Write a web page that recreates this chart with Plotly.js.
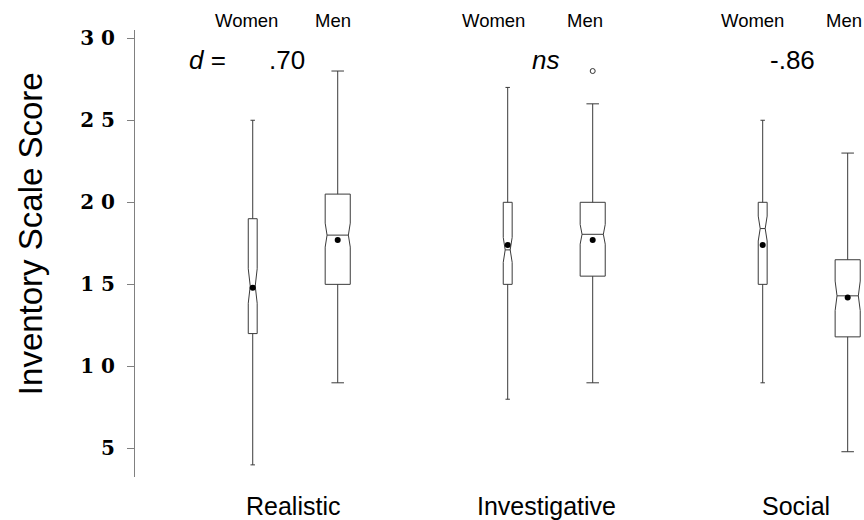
<!DOCTYPE html>
<html><head><meta charset="utf-8">
<script src="https://cdn.plot.ly/plotly-3.0.1.min.js"></script>
<style>html,body{margin:0;padding:0;background:#fff}</style>
</head><body><div id="chart" style="width:864px;height:520px"></div>
<script>
// Data (order per scale: Women, Men)
const scales = ['Realistic', 'Investigative', 'Social'];
const groups = ['Women', 'Men'];
const effectLabels = ['.70', '<i>ns</i>', '-.86'];
const lowerWhisker = [4, 9, 8, 9, 9, 4.8];
const q1Values = [12, 15, 15, 15.5, 15, 11.8];
const medianValues = [14.9, 18, 17.1, 18.05, 18.4, 14.3];
const q3Values = [19, 20.5, 20, 20, 20, 16.5];
const upperWhisker = [25, 28, 27, 26, 25, 23];
const notchHalfSpan = [1.05, 0.73, 0.76, 0.6, 0.76, 0.9];
const meanValues = [14.8, 17.7, 17.4, 17.7, 17.4, 14.2];
const outlierScaleIdx = [1];
const outlierGroupIdx = [1];
const outlierValues = [28];
const yTickVals = [5, 10, 15, 20, 25, 30];
const yTickText = ['5', '1 0', '1 5', '2 0', '2 5', '3 0'];

// positions: scale s, group g -> s*3 + g
const pos = (s, g) => s * 3 + g;
const lineCol = '#3a3a3a';
const traces = [];
const meanX = [], meanY = [];
scales.forEach((sc, s) => {
  groups.forEach((gr, g) => {
    const i = s * 2 + g;
    const isMen = g === 1;
    traces.push({
      type: 'box',
      name: sc + ' ' + gr,
      x: [pos(s, g)],
      q1: [q1Values[i]],
      median: [medianValues[i]],
      q3: [q3Values[i]],
      lowerfence: [lowerWhisker[i]],
      upperfence: [upperWhisker[i]],
      notchspan: [notchHalfSpan[i]],
      notched: true,
      notchwidth: isMen ? 0.075 : 0.22,
      width: isMen ? 0.295 : 0.105,
      whiskerwidth: 0.5,
      boxpoints: false,
      fillcolor: '#ffffff',
      line: {color: lineCol, width: 1},
      showlegend: false,
      hoverinfo: 'skip'
    });
    meanX.push(pos(s, g));
    meanY.push(meanValues[i]);
  });
});
traces.push({
  type: 'scatter', mode: 'markers', x: meanX, y: meanY,
  marker: {color: '#000', size: 6}, showlegend: false, hoverinfo: 'skip'
});
traces.push({
  type: 'scatter', mode: 'markers',
  x: outlierScaleIdx.map((s, k) => pos(s, outlierGroupIdx[k])),
  y: outlierValues,
  marker: {symbol: 'circle-open', color: '#333', size: 5, line: {width: 1}},
  showlegend: false, hoverinfo: 'skip'
});

const sans = 'Liberation Sans, Arial, sans-serif';
const annotations = [];
// group labels at top
const groupShift = [-6, -5, -14, -8, -10, -4];
scales.forEach((sc, s) => {
  groups.forEach((gr, g) => {
    annotations.push({
      xref: 'x', yref: 'paper', x: pos(s, g), y: 1.022, xshift: groupShift[s * 2 + g],
      text: gr, showarrow: false, xanchor: 'center', yanchor: 'middle',
      font: {family: sans, size: 18.5, color: '#000'}
    });
  });
});
// category labels at bottom
const catShift = [-2, -4, -9];
scales.forEach((sc, s) => {
  annotations.push({
    xref: 'x', yref: 'paper', x: pos(s, 0) + 0.5, y: -0.065, xshift: catShift[s],
    text: sc, showarrow: false, xanchor: 'center', yanchor: 'middle',
    font: {family: sans, size: 25, color: '#000'}
  });
});
// effect sizes
const effShift = [-8, -5, -13];
scales.forEach((sc, s) => {
  annotations.push({
    xref: 'x', yref: 'paper', x: pos(s, 0) + 0.5, y: 0.933, xshift: effShift[s],
    text: effectLabels[s], showarrow: false, xanchor: 'center', yanchor: 'middle',
    font: {family: sans, size: 26, color: '#000'}
  });
});
annotations.push({
  xref: 'x', yref: 'paper', x: pos(0, 0) - 0.53, y: 0.933,
  text: '<i>d</i> =', showarrow: false, xanchor: 'center', yanchor: 'middle',
  font: {family: sans, size: 26, color: '#000'}
});
// y title
annotations.push({
  xref: 'paper', yref: 'paper', x: -0.143, y: 0.545,
  text: 'Inventory Scale Score', textangle: -90, showarrow: false,
  xanchor: 'center', yanchor: 'middle',
  font: {family: sans, size: 33, color: '#000'}
});

const layout = {
  width: 864, height: 520,
  margin: {l: 135, r: 0, t: 30, b: 43},
  paper_bgcolor: '#fff', plot_bgcolor: '#fff',
  showlegend: false,
  xaxis: {range: [-1.385, 7.192], visible: false, fixedrange: true},
  yaxis: {
    range: [3.26, 30.5], tickvals: yTickVals, ticktext: yTickText,
    ticks: 'outside', ticklen: 7, tickwidth: 1, tickcolor: '#808080',
    showline: true, linecolor: '#808080', linewidth: 1,
    showgrid: false, zeroline: false, ticklabelstandoff: 8,
    tickfont: {family: 'DejaVu Serif, serif', size: 20, weight: 'bold', color: '#000'}
  },
  annotations: annotations
};
Plotly.newPlot('chart', traces, layout, {staticPlot: true, displayModeBar: false});
</script></body></html>
